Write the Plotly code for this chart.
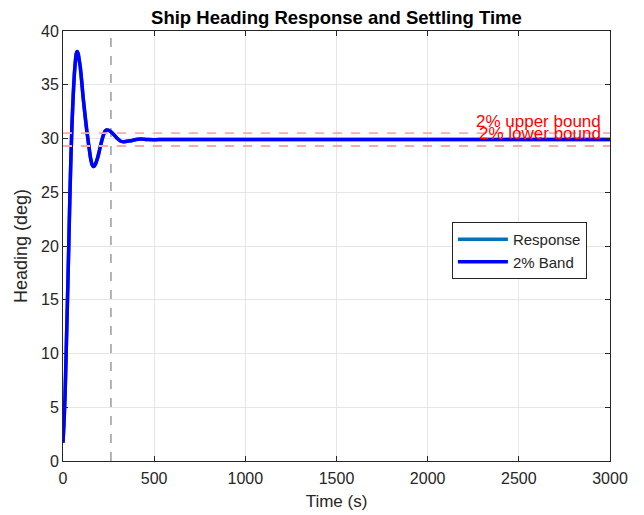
import plotly.graph_objects as go

# Time (s) and heading (deg)
time_s = [0, 5, 11, 18, 25, 32, 38, 44, 50, 56, 62, 68, 73, 78, 83, 88, 95, 102, 110, 120,
          130, 137, 145, 152, 160, 166, 172, 180, 190, 200, 212, 222, 232, 240, 248, 258,
          270, 285, 300, 315, 330, 345, 360, 380, 400, 422, 445, 470, 500, 550, 600, 700,
          800, 1000, 1500, 2000, 2500, 3000]
heading_deg = [1.7, 3.4, 6.0, 10.5, 15.3, 20.3, 24.8, 28.5, 31.6, 34.0, 35.9, 37.2, 37.9, 38.1,
               37.9, 37.4, 36.6, 35.4, 33.9, 32.3, 30.8, 29.9, 28.9, 28.1, 27.55, 27.4, 27.45,
               27.7, 28.2, 28.9, 29.75, 30.33, 30.7, 30.8, 30.78, 30.69, 30.52, 30.25, 29.97,
               29.77, 29.7, 29.72, 29.76, 29.82, 29.9, 29.95, 29.93, 29.9, 29.89, 29.9, 29.9,
               29.9, 29.9, 29.9, 29.9, 29.9, 29.9, 29.9]

final_value = 29.9
upper_bound = 30.5
lower_bound = 29.3
settling_time = 263

x_ticks = [0, 500, 1000, 1500, 2000, 2500, 3000]
y_ticks = [0, 5, 10, 15, 20, 25, 30, 35, 40]

font_family = "Liberation Sans, Arial, sans-serif"
axis_color = "#262626"

fig = go.Figure()
fig.add_trace(go.Scatter(x=time_s, y=heading_deg, mode="lines", name="Response",
                         line=dict(color="#0072BD", width=3.5, shape="spline", smoothing=0.6)))
fig.add_trace(go.Scatter(x=time_s, y=heading_deg, mode="lines", name="2% Band",
                         line=dict(color="#0000FF", width=3.5, shape="spline", smoothing=0.6)))

for yb in (upper_bound, lower_bound):
    fig.add_shape(type="line", xref="paper", x0=0, x1=1, yref="y", y0=yb, y1=yb,
                  line=dict(color="#FFAAAA", width=1.8, dash="dash"), layer="above")

fig.add_shape(type="line", xref="x", x0=settling_time, x1=settling_time, yref="paper", y0=0, y1=1,
              line=dict(color="#8C8C8C", width=1.3, dash="dash"), layer="below")

fig.add_annotation(x=0.988, xref="paper", y=upper_bound, yref="y", text="2% upper bound",
                   showarrow=False, xanchor="right", yanchor="bottom", yshift=0,
                   font=dict(family=font_family, size=17, color="#FF0000"))
fig.add_annotation(x=0.988, xref="paper", y=lower_bound, yref="y", text="2% lower bound",
                   showarrow=False, xanchor="right", yanchor="bottom", yshift=1,
                   font=dict(family=font_family, size=17, color="#FF0000"))

axis_common = dict(showline=True, linecolor=axis_color, linewidth=1, mirror="ticks",
                   ticks="inside", ticklen=5, tickcolor=axis_color, showgrid=True,
                   gridcolor="#E6E6E6", gridwidth=1, zeroline=False,
                   tickfont=dict(family=font_family, size=16, color=axis_color))

fig.update_xaxes(range=[0, 3000], tickvals=x_ticks, ticklabelstandoff=3,
                 title=dict(text="Time (s)", font=dict(family=font_family, size=17, color=axis_color),
                            standoff=8),
                 **axis_common)
fig.update_yaxes(range=[0, 40], tickvals=y_ticks,
                 title=dict(text="Heading (deg)", font=dict(family=font_family, size=18, color=axis_color),
                            standoff=8),
                 **axis_common)

fig.update_layout(
    width=644, height=515,
    margin=dict(l=55, r=42, t=23, b=62),
    paper_bgcolor="white", plot_bgcolor="white",
    title=dict(text="<b>Ship Heading Response and Settling Time</b>", x=0.51, xanchor="center",
               y=0.982, yanchor="middle",
               font=dict(family=font_family, size=18.5, color="#000000")),
    legend=dict(x=0.711, y=0.556, xanchor="left", yanchor="top", bgcolor="white",
                bordercolor=axis_color, borderwidth=1, itemwidth=50,
                font=dict(family=font_family, size=15, color=axis_color),
                tracegroupgap=0),
    showlegend=True,
)

fig.write_html("out.html")
